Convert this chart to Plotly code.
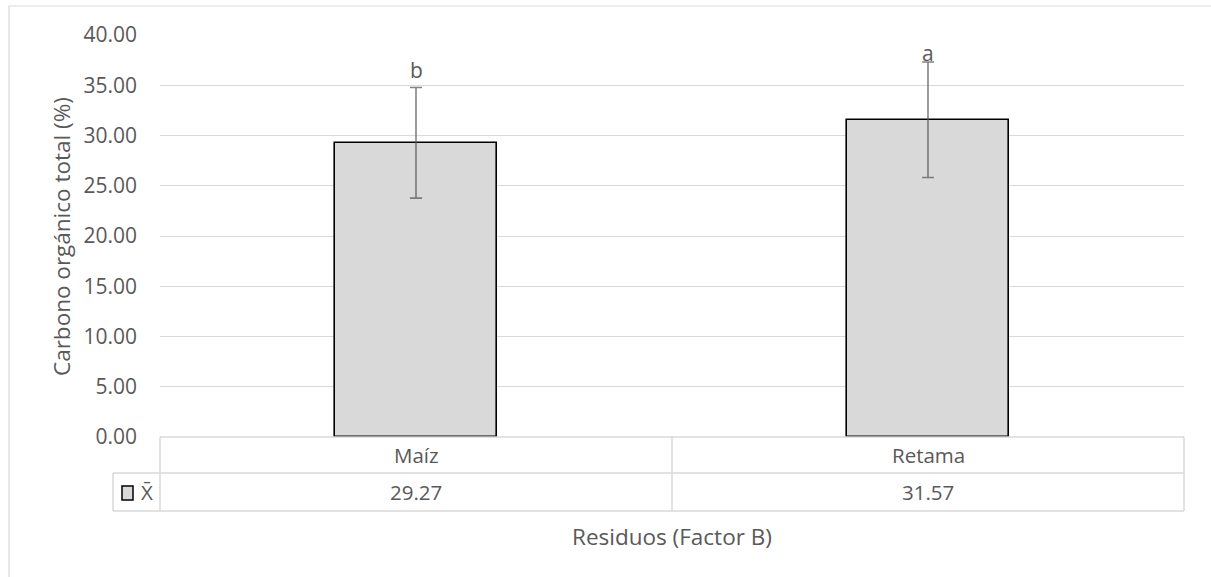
import plotly.graph_objects as go

categories = ["Maíz", "Retama"]
means = [29.27, 31.57]
errors = [5.5, 5.75]
letters = ["b", "a"]
y_ticks = [0, 5, 10, 15, 20, 25, 30, 35, 40]

W, H = 1211, 577
L, R, T, B = 160, 27, 35, 140
PW, PH = W - L - R, H - T - B

def px(x):
    return (x - L) / PW

def py(y):
    return (H - B - y) / PH

font = "Open Sans, Liberation Sans, sans-serif"
tc = "#595959"
grid = "#d9d9d9"

fig = go.Figure()
fig.add_trace(go.Bar(
    x=categories, y=means, width=0.316,
    marker=dict(color="#d9d9d9", line=dict(color="black", width=1.6)),
    error_y=dict(type="data", array=errors, visible=True,
                 color="rgba(90,90,90,0.75)", thickness=1.6, width=6),
    showlegend=False, hoverinfo="skip",
))

ann = []
shifts = [18, 9]
for c, m, e, l, s in zip(categories, means, errors, letters, shifts):
    ann.append(dict(x=c, y=m + e, xref="x", yref="y", text=l, showarrow=False,
                    yanchor="middle", yshift=s, font=dict(family=font, size=21, color=tc)))
for c, m in zip(categories, means):
    ann.append(dict(x=c, y=py(455), xref="x", yref="paper", text=c, showarrow=False,
                    yanchor="middle", font=dict(family=font, size=20.5, color=tc)))
    ann.append(dict(x=c, y=py(492), xref="x", yref="paper", text=f"{m:.2f}", showarrow=False,
                    yanchor="middle", font=dict(family=font, size=20.5, color=tc)))
ann.append(dict(x=px(139), y=py(492), xref="paper", yref="paper", text="X\u0304", showarrow=False,
                xanchor="left", yanchor="middle", font=dict(family=font, size=20.5, color=tc)))
ann.append(dict(x=px(672), y=py(536), xref="paper", yref="paper", text="Residuos (Factor B)",
                showarrow=False, yanchor="middle", font=dict(family=font, size=22.5, color=tc)))
ann.append(dict(x=px(61), y=py(237), xref="paper", yref="paper", text="Carbono orgánico total (%)",
                showarrow=False, textangle=-90, xanchor="center", yanchor="middle",
                font=dict(family=font, size=22.5, color=tc)))

def line(x0, y0, x1, y1, color=grid, w=1.5):
    return dict(type="line", xref="paper", yref="paper", x0=px(x0), y0=py(y0), x1=px(x1), y1=py(y1),
                line=dict(color=color, width=w), layer="above")

shapes = [
    line(160, 437, 1184, 437),
    line(113, 473, 1184, 473),
    line(113, 511, 1184, 511),
    line(160, 437, 160, 511),
    line(672, 437, 672, 511),
    line(1184, 437, 1184, 511),
    line(113, 473, 113, 511),
    dict(type="rect", xref="paper", yref="paper", x0=px(122), y0=py(500), x1=px(133), y1=py(486),
         fillcolor="#d9d9d9", line=dict(color="black", width=1.5)),
    dict(type="rect", xref="paper", yref="paper", x0=px(9), y0=py(590), x1=px(1230), y1=py(6),
         fillcolor="rgba(0,0,0,0)", line=dict(color="#d9d9d9", width=1.2), layer="below"),
]

fig.update_layout(
    width=W, height=H,
    margin=dict(l=L, r=R, t=T, b=B),
    paper_bgcolor="white", plot_bgcolor="white",
    xaxis=dict(showticklabels=False, showgrid=False, zeroline=False, showline=False,
               range=[-0.5, 1.5]),
    yaxis=dict(range=[0, 40], tickvals=y_ticks, ticktext=[f"{v:.2f}" for v in y_ticks],
               showgrid=True, gridcolor=grid, gridwidth=1.3, zeroline=False, showline=False,
               ticklabelstandoff=22, tickfont=dict(family=font, size=21, color=tc)),
    annotations=ann, shapes=shapes,
    bargap=0,
)

fig.write_html("out.html", config={"displayModeBar": False},
               post_script="document.body.style.margin='0';document.body.style.padding='0';document.body.style.overflow='hidden';")
